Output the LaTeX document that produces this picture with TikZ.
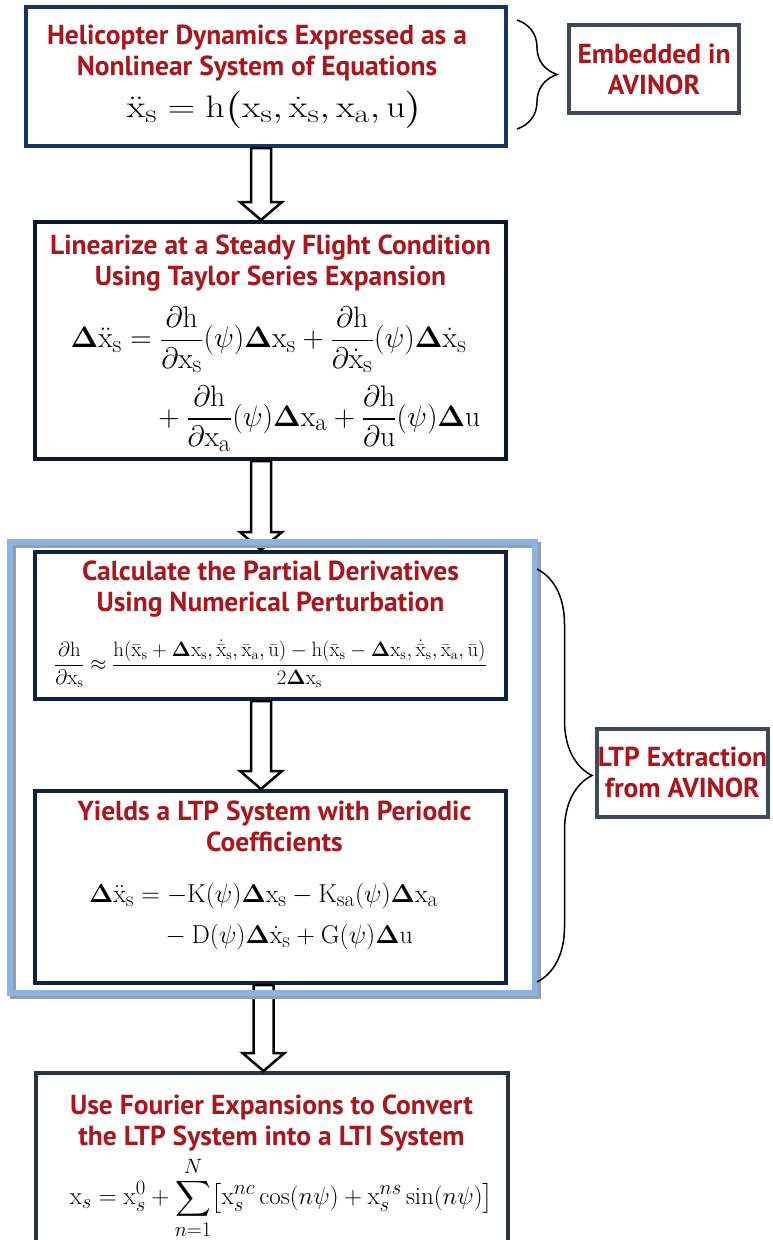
\documentclass[tikz,border=0pt]{standalone}
\usepackage{amsmath}
\usepackage{amssymb}
\usepackage{graphicx}
\usepackage{fontspec}
\usepackage{tikz}
\usetikzlibrary{positioning, fit, calc, decorations.pathreplacing}
\newfontfamily\headfont{PT Sans}
\definecolor{titlered}{RGB}{170,22,28}
\definecolor{navyA}{RGB}{26,52,96}
\definecolor{navyB}{RGB}{10,24,48}
\definecolor{navyC}{RGB}{14,34,68}
\definecolor{slate}{RGB}{62,74,90}
\definecolor{slateB}{RGB}{42,52,64}
\definecolor{frameblue}{RGB}{141,179,226}
\definecolor{frameshade}{RGB}{150,158,168}

% upright symbols used in the equations
\newcommand{\rx}{\mathrm{x}}
\newcommand{\rh}{\mathrm{h}}
\newcommand{\ru}{\mathrm{u}}
\newcommand{\Dl}{\boldsymbol{\Delta}}
\newcommand{\ds}{_{\mathrm{s}}}
\newcommand{\da}{_{\mathrm{a}}}

% hollow block arrow from the bottom of #2 to the top of #3, shifted by #1
\newcommand{\blockarrow}[3][0pt]{%
  \draw[flow] let \p1=($(#2.south)+(#1,0)$), \p2=(#3.north) in
    (\x1-10pt,\y1) -- (\x1-10pt,\y2+18pt) -- (\x1-21pt,\y2+18pt) -- (\x1,\y2)
    -- (\x1+21pt,\y2+18pt) -- (\x1+10pt,\y2+18pt) -- (\x1+10pt,\y1) -- cycle;}

\begin{document}
\begin{tikzpicture}[
    x=1pt, y=-1pt,
    mainbox/.style={rectangle, draw, line width=4pt, fill=white},
    sidebox/.style={rectangle, draw=slate, line width=4pt, fill=white,
        minimum width=170pt, minimum height=88pt},
    title/.style={font=\headfont\bfseries\fontsize{27.5}{31}\selectfont,
        text=titlered, align=center, inner sep=0pt},
    eqn/.style={inner sep=0pt, font=\fontsize{24.88}{30}\selectfont},
    flow/.style={draw=black, line width=2.5pt, fill=white, line join=miter},
    brace/.style={decorate, line width=1.5pt},
    lframe/.style={rectangle, draw=frameblue, line width=6pt,
        inner xsep=25pt, inner ysep=8pt}
]
\useasboundingbox (0,0) rectangle (772,1240);

% Nonlinear model
\node[mainbox, draw=navyA, minimum width=480pt, minimum height=139pt] (dyn) at (266,76.5) {};
\node[title, below=20pt of dyn.north, xshift=-9pt] (dyntitle)
    {Helicopter Dynamics Expressed as a\\Nonlinear System of Equations};
\node[eqn, below=86pt of dyn.north, xshift=9pt] (dyneq)
    {\scalebox{1.52}[1.25]{$\ddot{\rx}\ds = \rh\bigl(\rx\ds, \dot{\rx}\ds, \rx\da, \ru\bigr)$}};

% Linearisation
\node[mainbox, draw=navyB, minimum width=471pt, minimum height=237pt,
    below=72pt of dyn, xshift=4.5pt] (lin) {};
\node[title, below=15pt of lin.north] (lintitle)
    {Linearize at a Steady Flight Condition\\Using Taylor Series Expansion};
\node[eqn, below=87pt of lin.north, xshift=5pt] (lineq)
    {\scalebox{1.19}{$\begin{aligned}
      \Dl\ddot{\rx}\ds &= \frac{\partial\rh}{\partial\rx\ds}(\psi)\Dl\rx\ds
        + \frac{\partial\rh}{\partial\dot{\rx}\ds}(\psi)\Dl\dot{\rx}\ds\\[7pt]
      &\quad + \frac{\partial\rh}{\partial\rx\da}(\psi)\Dl\rx\da
        + \frac{\partial\rh}{\partial\ru}(\psi)\Dl\ru
    \end{aligned}$}};

% Partial derivatives
\node[mainbox, draw=navyC, minimum width=471pt, minimum height=147pt,
    below=89pt of lin] (pert) {};
\node[title, below=11pt of pert.north] (perttitle)
    {Calculate the Partial Derivatives\\Using Numerical Perturbation};
\node[eqn, font=\fontsize{20.74}{24}\selectfont, below=90pt of pert.north] (perteq)
    {$\displaystyle\frac{\partial\rh}{\partial\rx\ds} \approx
      \frac{\rh(\bar{\rx}\ds+\Dl\rx\ds, \dot{\bar{\rx}}\ds, \bar{\rx}\da, \bar{\ru})
        - \rh(\bar{\rx}\ds-\Dl\rx\ds, \dot{\bar{\rx}}\ds, \bar{\rx}\da, \bar{\ru})}
      {2\Dl\rx\ds}$};

% Periodic system
\node[mainbox, draw=navyC, minimum width=471pt, minimum height=192pt,
    below=88pt of pert] (ltpsys) {};
\node[title, below=12pt of ltpsys.north, xshift=4pt] (ltptitle)
    {Yields a LTP System with Periodic\\Coefficients};
\node[eqn, font=\fontsize{24.88}{37}\selectfont, below=86pt of ltpsys.north, xshift=-7pt] (ltpeq)
    {\scalebox{1.04}{$\begin{aligned}
      \Dl\ddot{\rx}\ds &= -\mathrm{K}(\psi)\Dl\rx\ds - \mathrm{K}_{\mathrm{sa}}(\psi)\Dl\rx\da\\
      &\quad - \mathrm{D}(\psi)\Dl\dot{\rx}\ds + \mathrm{G}(\psi)\Dl\ru
    \end{aligned}$}};

% Fourier step
\node[mainbox, draw=slateB, minimum width=472pt, minimum height=250pt,
    below=86pt of ltpsys, anchor=north, xshift=1pt] (lti) {};
\node[title, below=24pt of lti.north] (ltititle)
    {Use Fourier Expansions to Convert\\the LTP System into a LTI System};
\node[eqn, below=86pt of lti.north, xshift=10pt] (ltieq)
    {$\displaystyle \rx_s = \rx_s^0 + \sum_{n=1}^{N}\bigl[\rx_s^{nc}\cos(n\psi)
      + \rx_s^{ns}\sin(n\psi)\bigr]$};

% Arrows
\blockarrow[-5pt]{dyn}{lin}
\blockarrow[-9.5pt]{lin}{pert}
\blockarrow[-9.5pt]{pert}{ltpsys}
\blockarrow[-7pt]{ltpsys}{lti}

% Frame round the extraction steps
\node[lframe, draw=frameshade, fit=(pert)(ltpsys), xshift=5pt, yshift=-3pt] (shade) {};
\node[lframe, fit=(pert)(ltpsys), xshift=2pt] (extract) {};

% Side notes
\node[sidebox, right=59pt of dyn, yshift=7.5pt] (embed) {};
\node[title, at=(embed)] (embedtxt) {Embedded in\\AVINOR};
\node[sidebox, minimum width=171pt, right=57pt of extract, yshift=-5pt] (avinor) {};
\node[title, at=(avinor)] (avinortxt) {LTP Extraction\\from AVINOR};

% Braces
\coordinate (b1top) at ($(dyn.north east)+(9,15)$);
\coordinate (b1bot) at ($(dyn.south east)+(9,-19)$);
\draw[brace, decoration={brace, amplitude=40pt}] (b1top) -- (b1bot);
\coordinate (b2top) at ($(extract.north east)+(-1,30)$);
\coordinate (b2bot) at ($(extract.south east)+(-1,-14)$);
\draw[brace, decoration={brace, amplitude=55pt}] (b2top) -- (b2bot);

\end{tikzpicture}
\end{document}
